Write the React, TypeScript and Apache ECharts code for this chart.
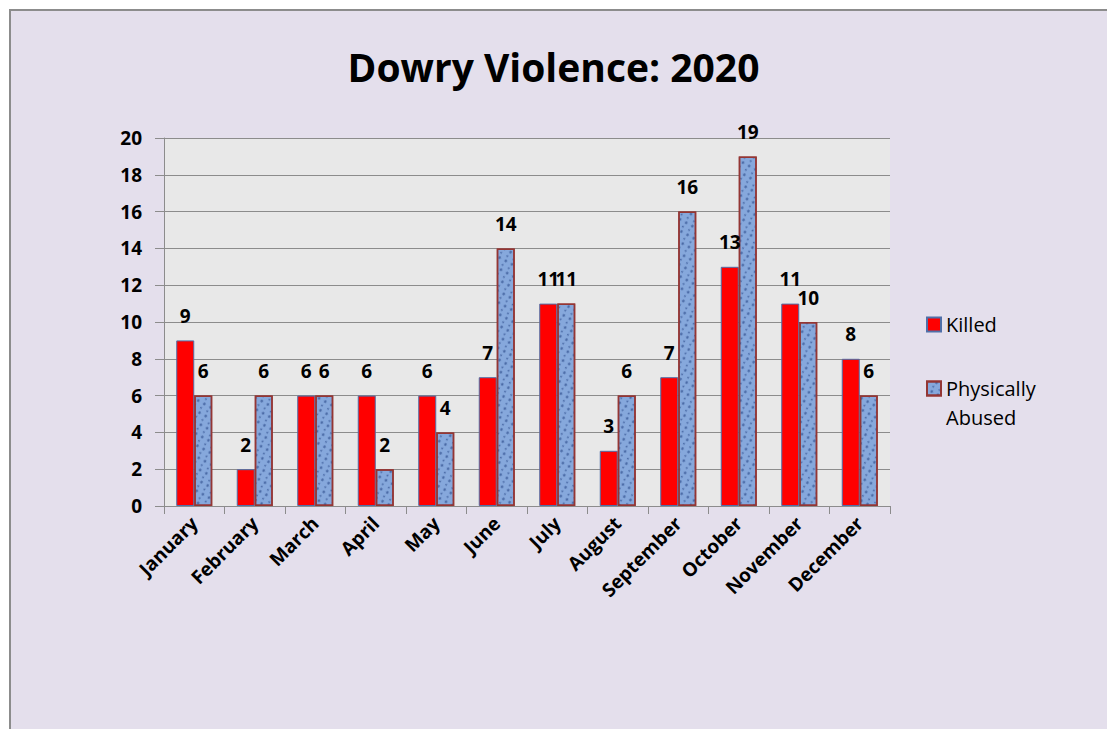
import React, { useEffect, useRef } from "react";
import * as echarts from "echarts";

const months = ["January", "February", "March", "April", "May", "June", "July", "August", "September", "October", "November", "December"];
const killed = [9, 2, 6, 6, 6, 7, 11, 3, 7, 13, 11, 8];
const abused = [6, 6, 6, 2, 4, 14, 11, 6, 16, 19, 10, 6];
const yTicks = [0, 2, 4, 6, 8, 10, 12, 14, 16, 18, 20];
const titleText = "Dowry Violence: 2020";
const seriesNames = ["Killed", "Physically Abused"];

const FONT = "'Open Sans', 'Noto Sans', sans-serif";

export default function App() {
  const ref = useRef<HTMLDivElement>(null);
  useEffect(() => {
    if (!ref.current) return;
    const chart = echarts.init(ref.current, null, { renderer: "svg" });
    const labelStyle = {
      show: true,
      position: "top" as const,
      distance: 15,
      color: "#000",
      fontSize: 19,
      fontWeight: "bold" as const,
      fontFamily: FONT,
    };
    chart.setOption({
      animation: false,
      backgroundColor: "#ffffff",
      graphic: [
        {
          type: "rect",
          z: -10,
          silent: true,
          shape: { x: 10, y: 10, width: 1120, height: 740 },
          style: { fill: "#E4DFEC", stroke: "#8C8C8C", lineWidth: 2 },
        },
      ],
      title: {
        text: titleText,
        left: "center",
        top: 42,
        textStyle: { fontSize: 39, fontWeight: "bold", color: "#000", fontFamily: FONT },
      },
      legend: {
        orient: "vertical",
        left: 921,
        top: 305,
        itemWidth: 14,
        itemHeight: 14,
        itemGap: 6,
        icon: "rect",
        formatter: (name: string) => (name === "Physically Abused" ? " \nPhysically\nAbused" : name),
        textStyle: { fontSize: 20, color: "#000", fontFamily: FONT, lineHeight: 29 },
        data: [{ name: seriesNames[0] }, { name: seriesNames[1] }],
      },
      grid: {
        left: 164,
        top: 138,
        right: 217,
        bottom: 223,
        show: true,
        backgroundColor: "#E8E8E8",
        borderWidth: 0,
      },
      xAxis: {
        type: "category",
        data: months,
        axisLine: { lineStyle: { color: "#8C8C8C", width: 1 } },
        axisTick: { show: true, length: 8, lineStyle: { color: "#8C8C8C" } },
        axisLabel: {
          rotate: 45,
          color: "#000",
          fontSize: 19,
          fontWeight: "bold",
          fontFamily: FONT,
          margin: 14,
          interval: 0,
        },
      },
      yAxis: {
        type: "value",
        min: yTicks[0],
        max: yTicks[yTicks.length - 1],
        interval: 2,
        axisLine: { show: true, lineStyle: { color: "#8C8C8C", width: 1 } },
        axisTick: { show: true, length: 9, lineStyle: { color: "#8C8C8C" } },
        splitLine: { lineStyle: { color: "#8C8C8C", width: 1 } },
        axisLabel: {
          color: "#000",
          fontSize: 19,
          fontWeight: "bold",
          fontFamily: FONT,
          margin: 22,
        },
      },
      series: [
        {
          name: seriesNames[0],
          type: "bar",
          data: killed,
          barWidth: 18,
          barGap: "0%",
          itemStyle: { color: "#FF0000", borderColor: "#4F6FA8", borderWidth: 1 },
          label: labelStyle,
        },
        {
          name: seriesNames[1],
          type: "bar",
          data: abused,
          barWidth: 18,
          itemStyle: {
            color: "#86A8DC",
            borderColor: "#943634",
            borderWidth: 1.5,
            decal: {
              symbol: "circle",
              symbolSize: 0.9,
              color: "rgba(35,65,130,0.6)",
              dashArrayX: [[4, 3], [2, 5]],
              dashArrayY: [3, 2],
              rotation: 0.5,
            },
          },
          label: labelStyle,
        },
      ],
    });
    return () => chart.dispose();
  }, []);
  return <div ref={ref} style={{ position: "absolute", left: 0, top: 0, width: 1107, height: 729 }} />;
}
